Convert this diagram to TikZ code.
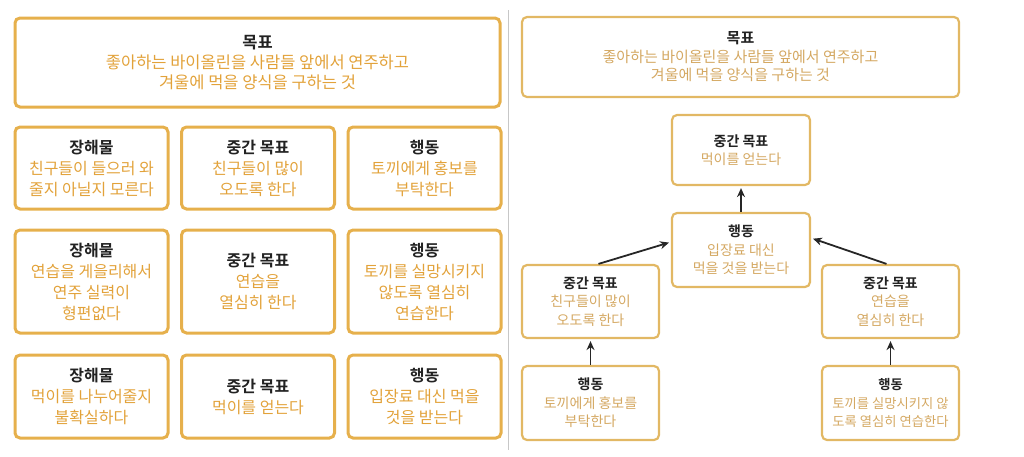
\documentclass[tikz,border=0pt]{standalone}
\usepackage{fontspec}
\setmainfont{Noto Sans CJK KR}[BoldFont={Noto Sans CJK KR Bold}]
\usetikzlibrary{arrows.meta}

\definecolor{boxgold}{HTML}{E6B04C}
\definecolor{boxgoldlight}{HTML}{E2B864}
\definecolor{textgold}{HTML}{E2A23A}
\definecolor{textgoldlight}{HTML}{D4A862}
\definecolor{titlegray}{HTML}{222222}

\begin{document}
\begin{tikzpicture}[x=1pt,y=-1pt]
  % Estilos de las cajas
  \tikzset{
    leftbox/.style={draw=boxgold,line width=3pt,rounded corners=5pt,align=center,
      inner sep=0pt,text=textgold,font=\fontsize{16}{21}\selectfont},
    rightbox/.style={draw=boxgoldlight,line width=2.2pt,rounded corners=5pt,align=center,
      inner sep=0pt,text=textgoldlight,font=\fontsize{14}{18.5}\selectfont},
    link/.style={-{Stealth[length=9pt,width=8pt]},line width=1.8pt,black!85,shorten >=2pt}
  }
  \useasboundingbox (0,0) rectangle (1024,456);

  % Panel izquierdo: tabla de metas
  \node[leftbox,minimum width=485,minimum height=89,font=\fontsize{16.5}{20}\selectfont] (goalL) at (257.5,62.5)
    {\textcolor{titlegray}{\bfseries 목표}\\좋아하는 바이올린을 사람들 앞에서 연주하고\\겨울에 먹을 양식을 구하는 것};

  \node[leftbox,minimum width=153,minimum height=82] (obsA) at (91.5,168)
    {\textcolor{titlegray}{\bfseries 장해물}\\친구들이 들으러 와\\줄지 아닐지 모른다};
  \node[leftbox,minimum width=153,minimum height=82] (midA) at (258,168)
    {\textcolor{titlegray}{\bfseries 중간 목표}\\친구들이 많이\\오도록 한다};
  \node[leftbox,minimum width=153,minimum height=82] (actA) at (424.5,168)
    {\textcolor{titlegray}{\bfseries 행동}\\토끼에게 홍보를\\부탁한다};

  \node[leftbox,minimum width=153,minimum height=103] (obsB) at (91.5,281.5)
    {\textcolor{titlegray}{\bfseries 장해물}\\연습을 게을리해서\\연주 실력이\\형편없다};
  \node[leftbox,minimum width=153,minimum height=103] (midB) at (258,281.5)
    {\textcolor{titlegray}{\bfseries 중간 목표}\\연습을\\열심히 한다};
  \node[leftbox,minimum width=153,minimum height=103] (actB) at (424.5,281.5)
    {\textcolor{titlegray}{\bfseries 행동}\\토끼를 실망시키지\\않도록 열심히\\연습한다};

  \node[leftbox,minimum width=153,minimum height=83] (obsC) at (91.5,396.5)
    {\textcolor{titlegray}{\bfseries 장해물}\\먹이를 나누어줄지\\불확실하다};
  \node[leftbox,minimum width=153,minimum height=83] (midC) at (258,396.5)
    {\textcolor{titlegray}{\bfseries 중간 목표}\\먹이를 얻는다};
  \node[leftbox,minimum width=153,minimum height=83] (actC) at (424.5,396.5)
    {\textcolor{titlegray}{\bfseries 행동}\\입장료 대신 먹을\\것을 받는다};

  % Separador
  \draw[line width=0.8pt,black!22] (508,10) -- (508,450);

  % Panel derecho: arbol de metas
  \node[rightbox,minimum width=437,minimum height=80,font=\fontsize{15}{18.5}\selectfont] (goalR) at (740.5,57)
    {\textcolor{titlegray}{\bfseries 목표}\\좋아하는 바이올린을 사람들 앞에서 연주하고\\겨울에 먹을 양식을 구하는 것};

  \node[rightbox,minimum width=138,minimum height=70] (midTop) at (741,150)
    {\textcolor{titlegray}{\bfseries 중간 목표}\\먹이를 얻는다};
  \node[rightbox,minimum width=138,minimum height=74] (actTop) at (741,250)
    {\textcolor{titlegray}{\bfseries 행동}\\입장료 대신\\먹을 것을 받는다};

  \node[rightbox,minimum width=137,minimum height=73] (midL) at (590.5,301.5)
    {\textcolor{titlegray}{\bfseries 중간 목표}\\친구들이 많이\\오도록 한다};
  \node[rightbox,minimum width=137,minimum height=74] (actL) at (590.5,403)
    {\textcolor{titlegray}{\bfseries 행동}\\토끼에게 홍보를\\부탁한다};

  \node[rightbox,minimum width=137,minimum height=73] (midR) at (890.5,301.5)
    {\textcolor{titlegray}{\bfseries 중간 목표}\\연습을\\열심히 한다};
  \node[rightbox,minimum width=137,minimum height=74,font=\fontsize{13.3}{18.5}\selectfont] (actR) at (890.5,403)
    {\textcolor{titlegray}{\bfseries 행동}\\토끼를 실망시키지 않\\도록 열심히 연습한다};

  \foreach \from/\to in {actTop/midTop,actL/midL,actR/midR}
    \draw[link] (\from.north) -- (\to.south);
  \draw[link] ([xshift=8pt]midL.north) -- ([yshift=8pt]actTop.west);
  \draw[link] ([xshift=-4pt]midR.north) -- ([yshift=12pt]actTop.east);
\end{tikzpicture}
\end{document}
